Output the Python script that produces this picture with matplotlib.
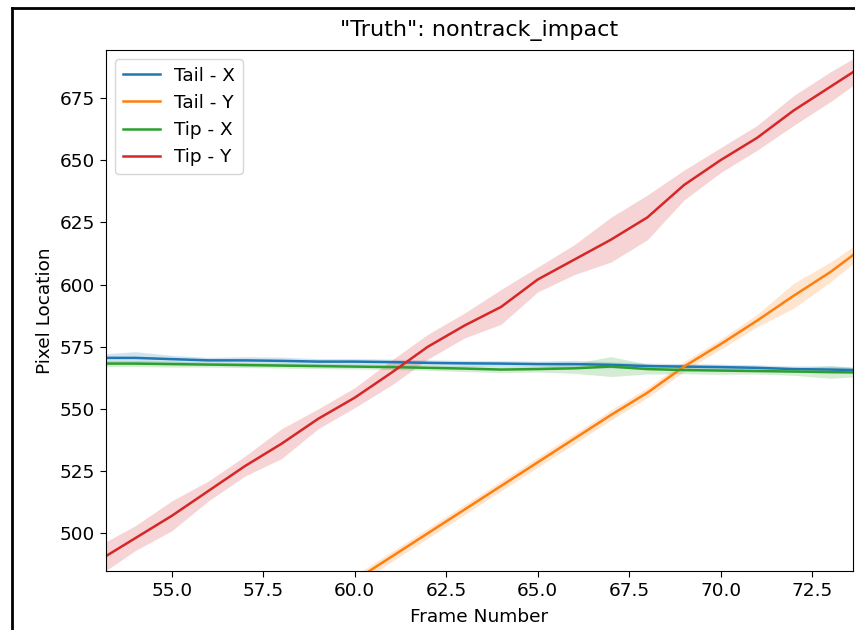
import numpy as np
import matplotlib.pyplot as plt
from matplotlib.lines import Line2D

# frame numbers
frames = list(range(53, 75))

# mean pixel location per frame
tail_x = [570.5, 570.5, 570.0, 569.5, 569.5, 569.3, 569.0, 569.0, 568.8, 568.5, 568.3,
          568.2, 568.0, 568.0, 567.7, 567.2, 567.0, 566.8, 566.5, 566.0, 565.8, 565.5]
tail_y = [414.0, 423.5, 433.0, 442.5, 452.0, 461.5, 471.5, 481.0, 490.5, 500.0, 509.5,
          519.0, 528.5, 538.0, 547.5, 556.5, 567.0, 576.0, 585.5, 595.5, 605.0, 616.0]
tip_x = [568.2, 568.2, 568.0, 567.8, 567.6, 567.4, 567.2, 567.0, 566.8, 566.5, 566.2,
         565.8, 566.0, 566.3, 567.0, 566.0, 565.6, 565.4, 565.2, 565.0, 564.8, 564.6]
tip_y = [489.0, 498.0, 507.0, 517.0, 527.0, 536.0, 546.0, 554.5, 564.5, 575.0, 583.5,
         591.0, 602.0, 610.0, 618.0, 627.0, 640.0, 650.0, 659.0, 670.0, 679.5, 689.0]

# half width of the confidence band per frame
tail_x_err = [1.5, 2.5, 1.5, 1.2, 1.5, 1.5, 1.2, 1.2, 1.2, 1.2, 1.2,
              1.2, 1.2, 1.5, 1.2, 1.2, 1.2, 1.2, 1.2, 1.2, 1.5, 1.2]
tail_y_err = [2.0, 2.0, 2.0, 2.0, 2.0, 2.0, 2.0, 2.0, 2.0, 2.0, 2.0,
              2.0, 2.0, 2.0, 2.0, 2.0, 2.0, 2.0, 2.5, 5.0, 4.0, 3.0]
tip_x_err = [1.2, 1.2, 1.2, 1.0, 1.0, 1.0, 1.0, 1.0, 1.0, 1.0, 1.2,
             1.2, 1.2, 2.0, 4.0, 2.0, 1.5, 1.5, 1.2, 1.5, 2.5, 1.5]
tip_y_err = [6.0, 5.0, 6.0, 4.0, 4.0, 6.0, 4.0, 4.0, 5.0, 5.0, 5.0,
             7.0, 5.0, 6.0, 9.0, 9.0, 6.0, 5.0, 5.0, 6.0, 6.0, 5.0]

series = [
    ('Tail - X', tail_x, tail_x_err, 'tab:blue'),
    ('Tail - Y', tail_y, tail_y_err, 'tab:orange'),
    ('Tip - X', tip_x, tip_x_err, 'tab:green'),
    ('Tip - Y', tip_y, tip_y_err, 'tab:red'),
]

plt.rcParams['font.size'] = 13.3
plt.rcParams['xtick.major.size'] = 4.5
plt.rcParams['ytick.major.size'] = 4.5

fig = plt.figure(figsize=(8.55, 6.3), dpi=100)
ax = fig.add_axes([106 / 855, 1 - 571 / 630, (853 - 106) / 855, (571 - 50) / 630])

for name, vals, err, col in series:
    vals = np.array(vals)
    err = np.array(err)
    ax.fill_between(frames, vals - err, vals + err, color=col, alpha=0.2, linewidth=0)
    ax.plot(frames, vals, color=col, linewidth=1.8, label=name)

ax.set_xlim(53.2, 73.62)
ax.set_ylim(484.8, 694.3)
ax.set_xticks([55, 57.5, 60, 62.5, 65, 67.5, 70, 72.5])
ax.set_xticklabels(['55.0', '57.5', '60.0', '62.5', '65.0', '67.5', '70.0', '72.5'])
ax.set_yticks([500, 525, 550, 575, 600, 625, 650, 675])
ax.set_xlabel('Frame Number', labelpad=6)
ax.set_ylabel('Pixel Location')
ax.set_title('"Truth": nontrack_impact', fontsize=16, pad=10)
ax.legend(loc='upper left')

# screenshot border
fig.add_artist(Line2D([11.5 / 855, 11.5 / 855], [0, 1 - 8 / 630], color='black', linewidth=2,
                      transform=fig.transFigure))
fig.add_artist(Line2D([11.5 / 855, 1], [1 - 8 / 630, 1 - 8 / 630], color='black', linewidth=2,
                      transform=fig.transFigure))

plt.savefig('out.png', dpi=100)
